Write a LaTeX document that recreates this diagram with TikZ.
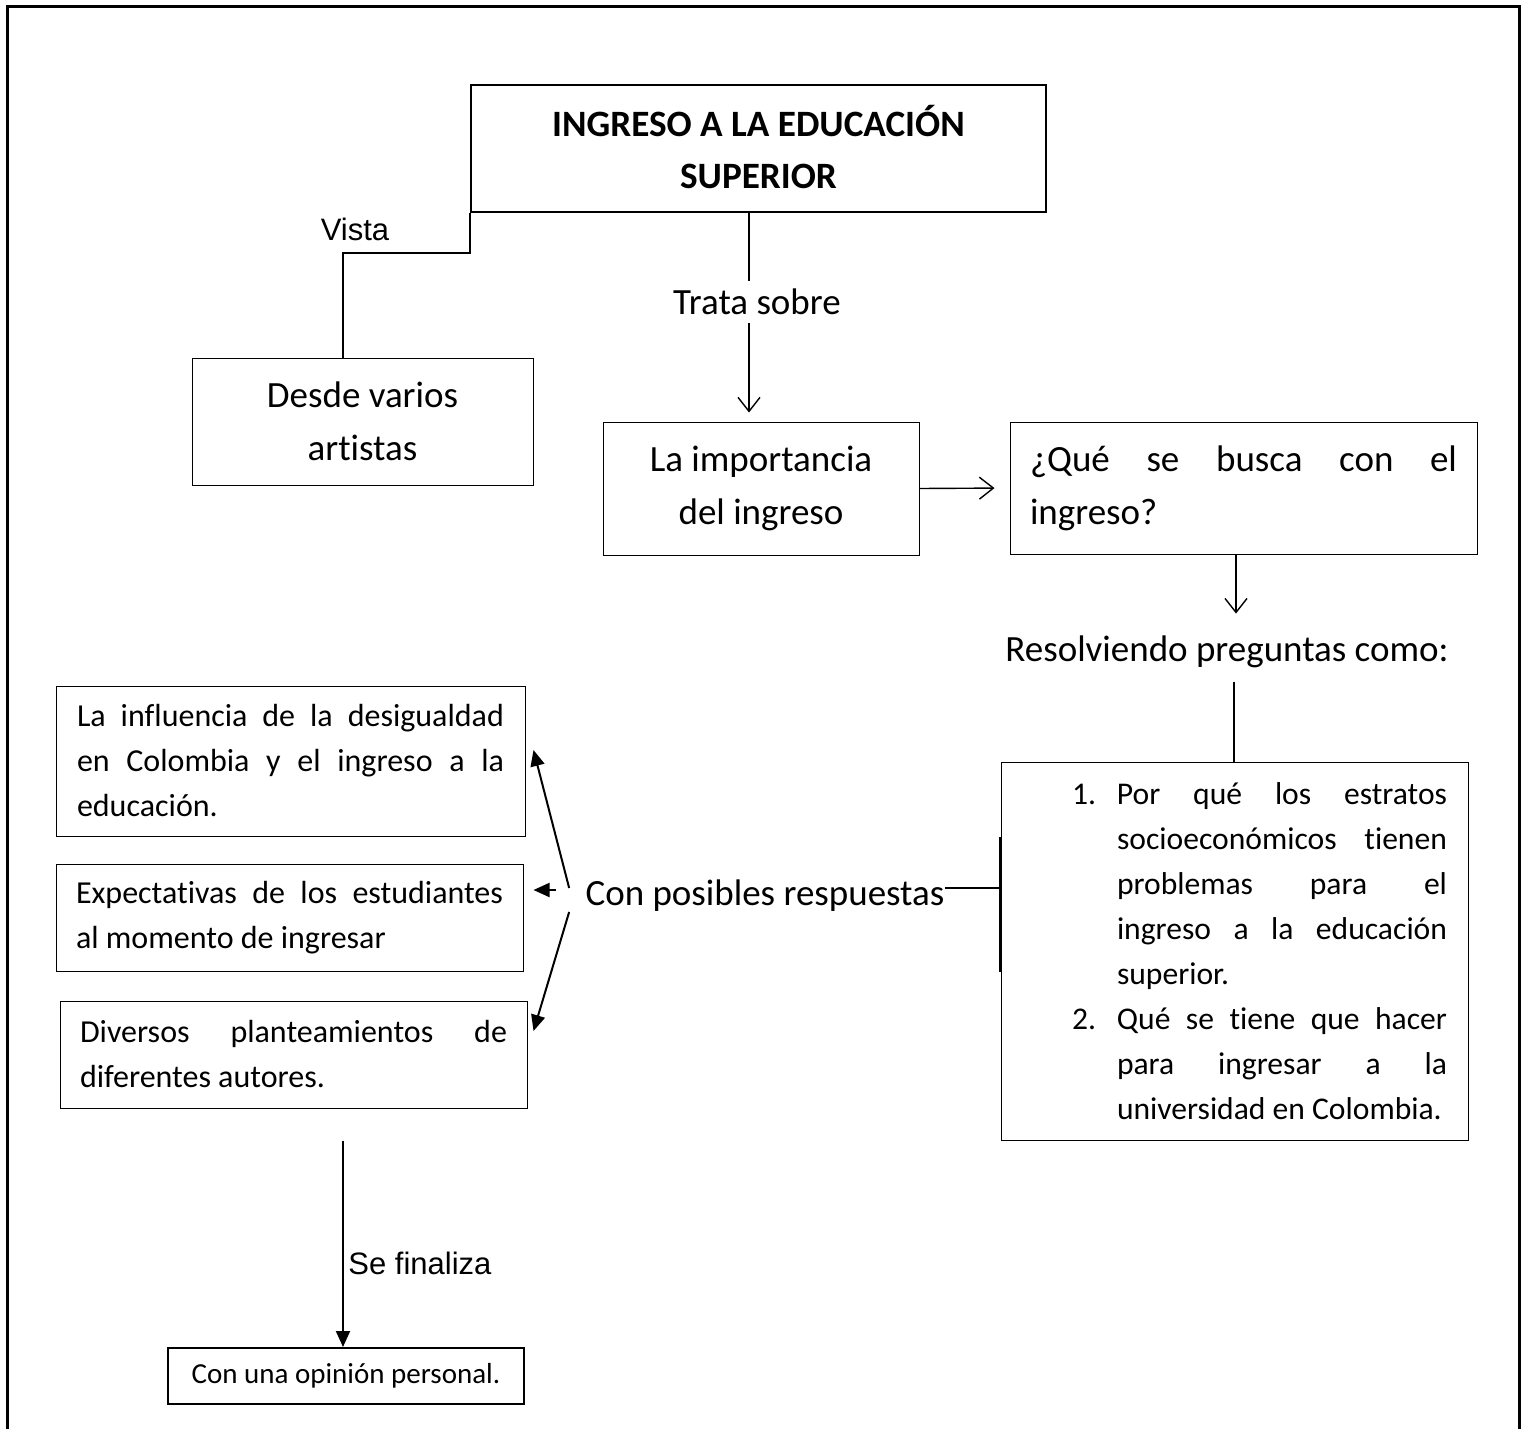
\documentclass[tikz,border=0pt]{standalone}
\usepackage{fontspec}
\setmainfont[Ligatures=CommonOff]{Carlito}
\newfontfamily\arialfont[Ligatures=CommonOff]{Liberation Sans}
\usetikzlibrary{arrows.meta}
\hbadness=10000

\begin{document}
\begin{tikzpicture}  % ------ Ingreso a la educación superior -------
      [x=0.5pt,y=-0.5pt,
       caja/.style={draw,line width=.5pt,inner sep=0pt,align=center,font=\fontsize{18.5}{26.5}\selectfont},
       cajaj/.style={draw,line width=.5pt,inner sep=0pt,align=justify,font=\fontsize{16}{22.5}\selectfont},
       texto/.style={inner sep=0pt,font=\fontsize{18.5}{26.5}\selectfont},
       etiq/.style={inner sep=0pt,font=\arialfont\fontsize{15.5}{18}\selectfont},
       abierta/.style={-{Straight Barb[length=7pt,width=11pt]},line width=.7pt},
       llena/.style={-{Triangle[length=8pt,width=7pt]},line width=1pt}]
    \useasboundingbox (0,0) rectangle (1526,1429);
    \draw[line width=1.5pt] (7,1429) -- (7,7) -- (1519,7) -- (1519,1429);

    \coordinate (codo) at (343,253);
    \coordinate (eje) at (749,0);
    \coordinate (eje2) at (1236,0);
    \coordinate (eje3) at (343,0);
    \coordinate (eje4) at (1234,0);
    \coordinate (corchete) at (1000,888);

    \node[caja,line width=1pt,minimum width=287.5pt,minimum height=63.5pt,
          font=\bfseries\fontsize{18.6}{26}\selectfont] (titulo) at (758.5,148.5) {\raisebox{2pt}{INGRESO A LA EDUCACIÓN}\\\raisebox{2pt}{SUPERIOR}};
    \node[caja,minimum width=170.5pt,minimum height=63.5pt] (desde) at (362.5,421.5) {Desde varios\\artistas};
    \node[caja,minimum width=158pt,minimum height=66.5pt] (importancia) at (761,488.5) {La importancia\\del ingreso};
    \node[caja,align=justify,text width=213.5pt,minimum width=233.5pt,minimum height=66pt] (busca) at (1243.5,488) {¿Qué se busca con el\linebreak ingreso?};

    \node[etiq] (vista) at (355,229) {Vista};
    \node[texto,minimum height=21pt] (trata) at (757,302) {Trata sobre};
    \node[texto] (preguntas) at (1227,652) {Resolviendo preguntas como:};
    \node[texto] (respuestas) at (765,896) {Con posibles respuestas};
    \node[etiq,anchor=west] (finaliza) at (348,1263) {Se finaliza};

    \node[cajaj,text width=212.5pt,minimum width=233.5pt,minimum height=189pt,
          font=\fontsize{15.8}{22.5}\selectfont] (lista) at (1234.5,951) {%
      \hyphenpenalty=10000 \leftskip=25pt \hangindent=22.5pt \hangafter=1
      \makebox[22.5pt][l]{1.}Por qué los estratos\linebreak socioeconómicos tienen\linebreak problemas para el\linebreak ingreso a la educación\linebreak superior.\par
      \hangindent=22.5pt \hangafter=1
      \makebox[22.5pt][l]{2.}Qué se tiene que hacer\linebreak para ingresar a la\linebreak universidad en Colombia.\par};

    \node[cajaj,text width=213.5pt,minimum width=234.5pt,minimum height=75pt] (izq1) at (290.5,761) {La influencia de la desigualdad\linebreak en Colombia y el ingreso a la\linebreak educación.};
    \node[cajaj,text width=213.5pt,minimum width=233.5pt,minimum height=53.5pt] (izq2) at (289.5,917.5) {Expectativas de los estudiantes\linebreak al momento de ingresar};
    \node[cajaj,text width=213.5pt,minimum width=233.5pt,minimum height=53.5pt] (izq3) at (293.5,1054.5) {Diversos planteamientos de\linebreak diferentes autores.};
    \node[caja,line width=1pt,minimum width=178pt,minimum height=28pt,
          font=\fontsize{14.5}{17}\selectfont] (opinion) at (346,1376) {Con una opinión personal.};

    \draw[line width=1pt] (titulo.south west) |- (codo) -- (codo |- desde.north);
    \draw[line width=.8pt] (titulo.south -| eje) -- (trata.north -| eje);
    \draw[abierta,shorten >=4.5pt] (trata.south -| eje) -- (importancia.north -| eje);
    \draw[abierta,shorten >=7.5pt] (importancia.east) -- (busca.west);
    \draw[abierta,shorten >=11pt] (busca.south -| eje2) -- (preguntas.north -| eje2);
    \draw[line width=.6pt,shorten <=7pt] (preguntas.south -| eje4) -- (lista.north -| eje4);
    \draw[line width=.6pt] (respuestas.east |- corchete) -- (corchete);
    \draw[line width=1pt] (corchete) ++(0,-51) -- ++(0,135);

    \draw[llena] ([xshift=-8pt,yshift=4pt]respuestas.west) -- ([xshift=4pt,yshift=5.5pt]izq1.east);
    \draw[llena] ([xshift=-14.75pt,yshift=3pt]respuestas.west) -- ([xshift=5pt,yshift=13.75pt]izq2.east);
    \draw[llena] ([xshift=-8pt,yshift=-8pt]respuestas.west) -- ([xshift=3pt,yshift=11.75pt]izq3.east);
    \draw[llena,shorten <=16pt] (izq3.south -| eje3) -- (opinion.north -| eje3);
\end{tikzpicture}
\end{document}
